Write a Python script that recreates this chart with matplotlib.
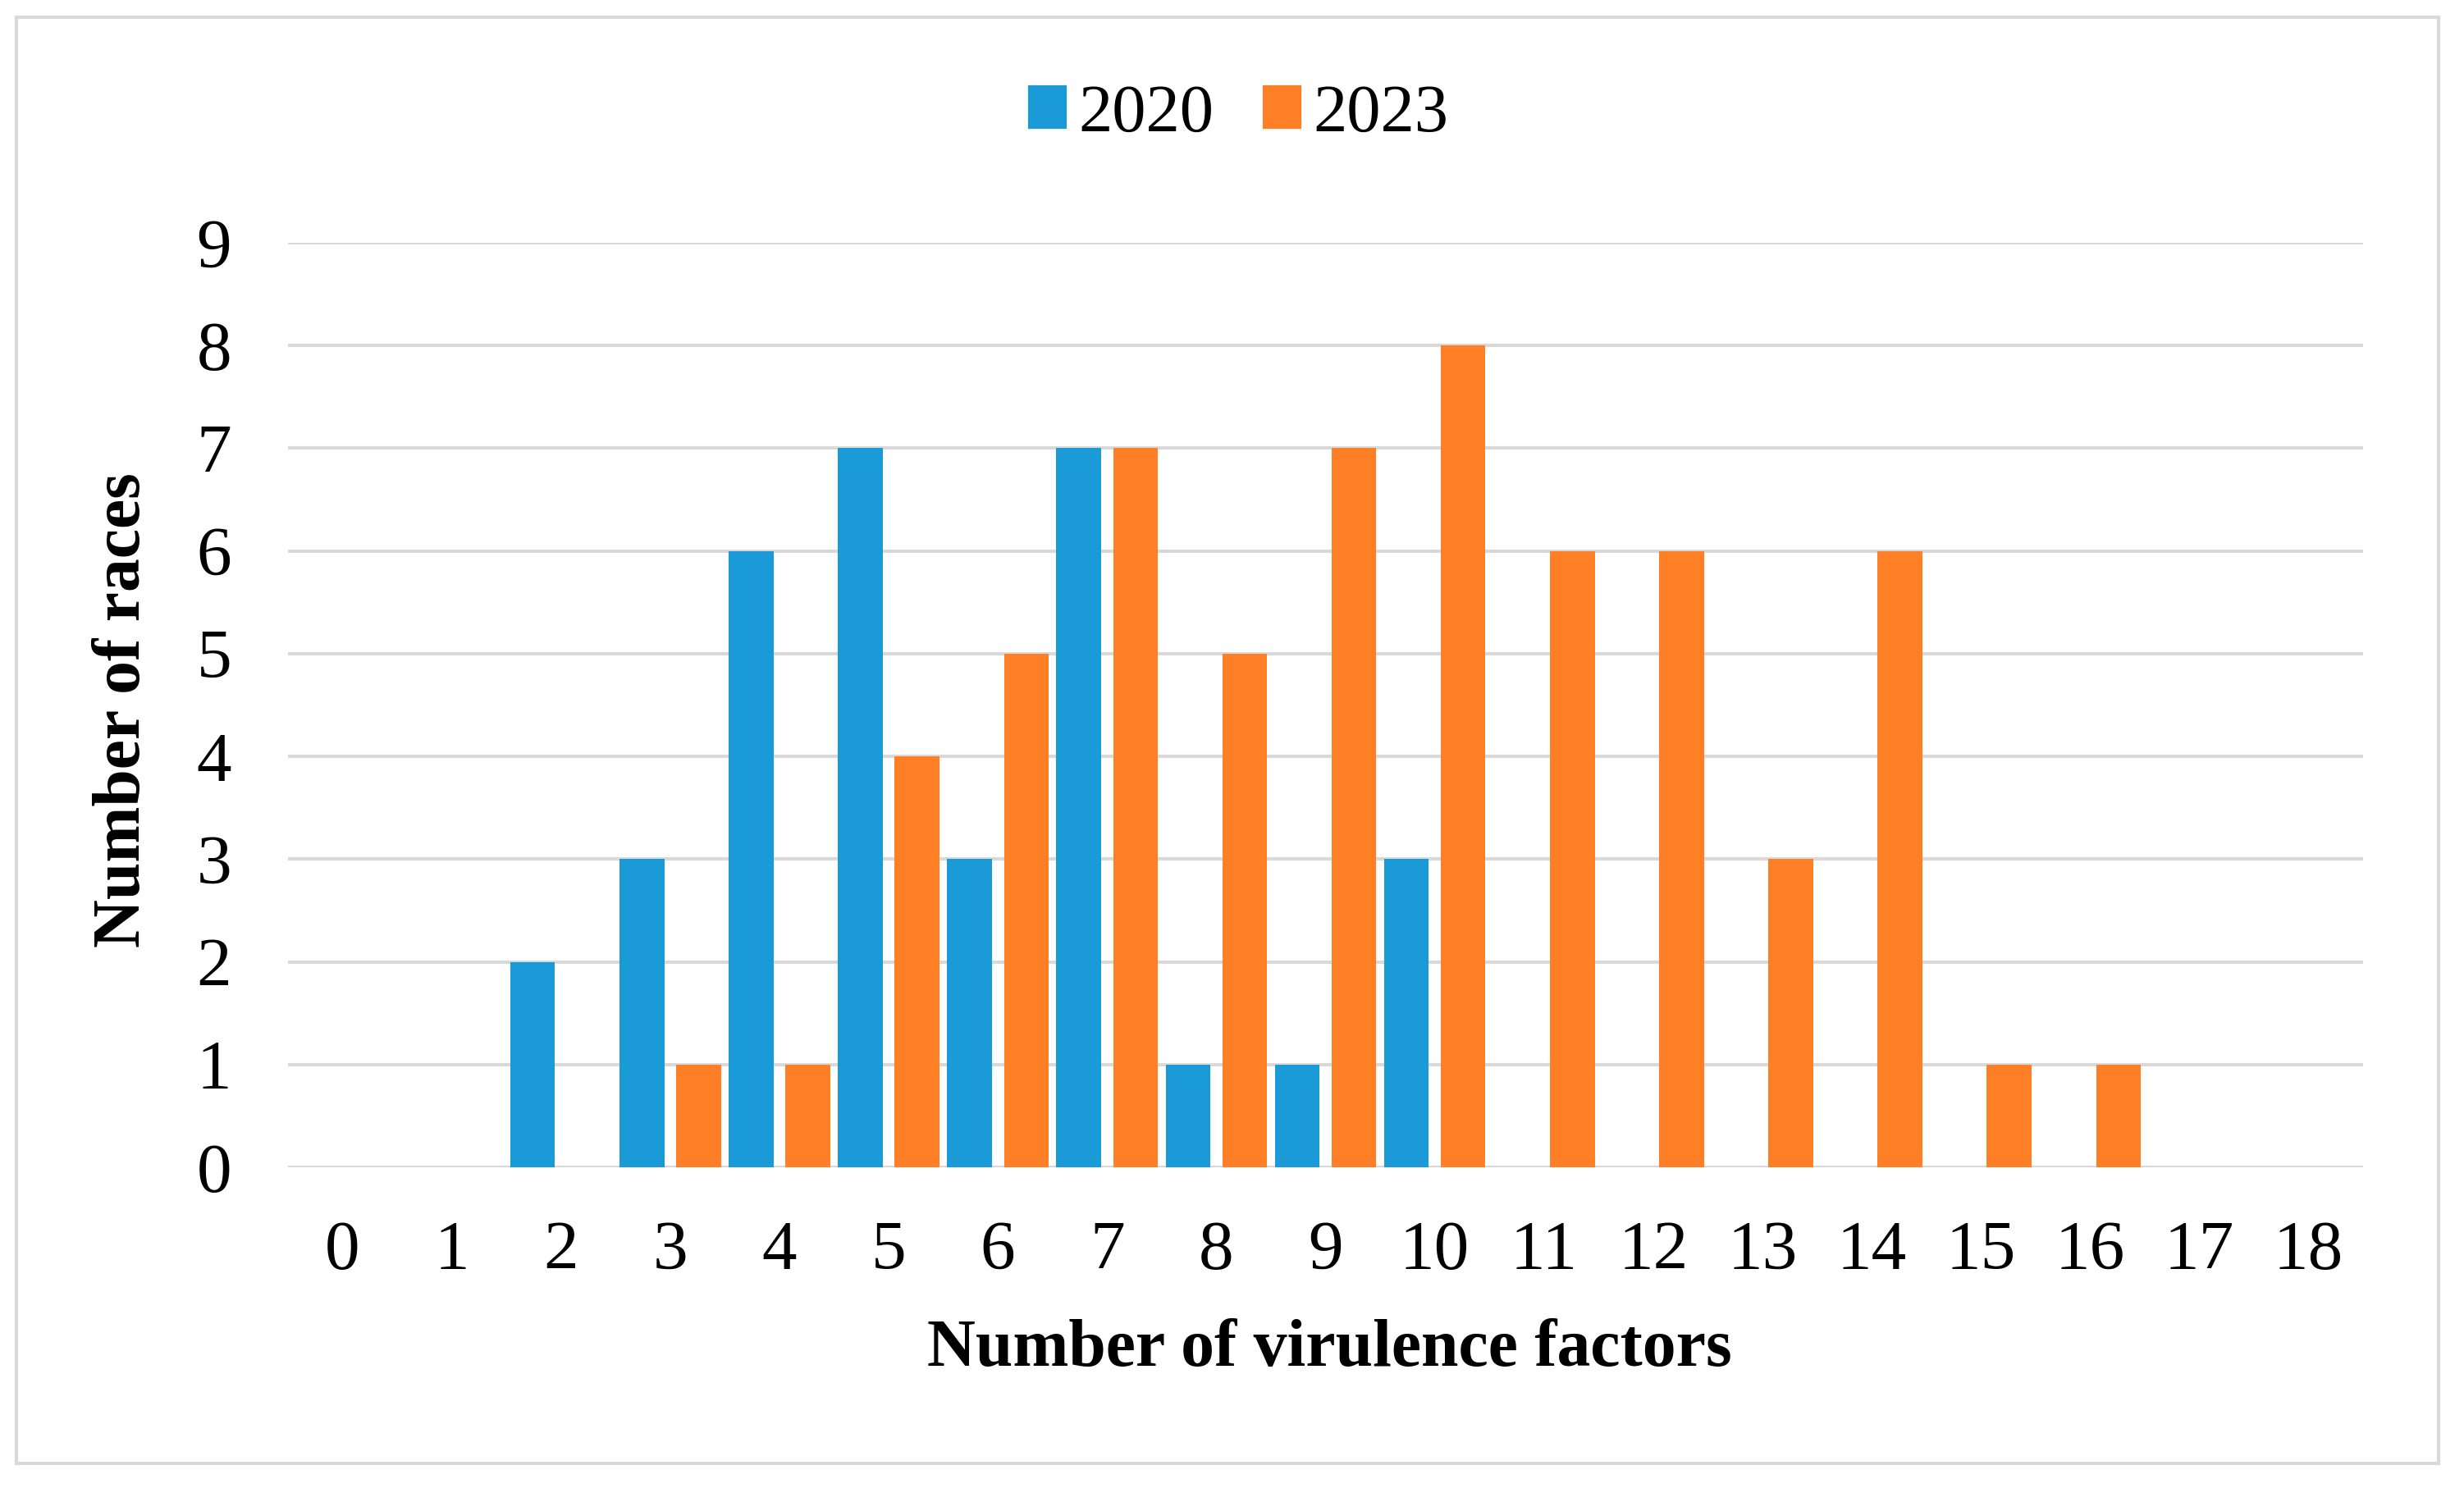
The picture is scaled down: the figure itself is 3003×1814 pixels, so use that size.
import matplotlib
matplotlib.use("Agg")
import matplotlib.pyplot as plt
import matplotlib.patches as mpatches
import numpy as np

# Data
factors = list(range(19))
races_2020 = [0, 0, 2, 3, 6, 7, 3, 7, 1, 1, 3, 0, 0, 0, 0, 0, 0, 0, 0]
races_2023 = [0, 0, 0, 1, 1, 4, 5, 7, 5, 7, 8, 6, 6, 3, 6, 1, 1, 0, 0]
series_names = ["2020", "2023"]

blue = "#1a9ad6"
orange = "#fe7f25"
grid_col = "#d9d9d9"

plt.rcParams["font.family"] = ["Liberation Serif", "DejaVu Serif"]

W, H = 3003, 1814
fig = plt.figure(figsize=(W / 300, H / 300), dpi=300)
fig.patch.set_facecolor("white")

# outer frame
fig.patches.append(mpatches.Rectangle((20 / W, 1 - 1784 / H), (2972 - 20) / W, (1784 - 21) / H,
                                      transform=fig.transFigure, fill=False,
                                      edgecolor=grid_col, linewidth=1.0))

ax = fig.add_axes([351 / W, 1 - 1423 / H, (2880 - 351) / W, (1423 - 296) / H])

x = np.arange(len(factors))
w = 0.41
off = 0.26
ax.bar(x - off, races_2020, width=w, color=blue, zorder=3, label=series_names[0])
ax.bar(x + off, races_2023, width=w, color=orange, zorder=3, label=series_names[1])

ax.set_xlim(-0.5, len(factors) - 0.5)
ax.set_ylim(0, 9)
ax.set_yticks(range(10))
ax.set_xticks(x)
ax.set_xticklabels([str(f) for f in factors])
ax.tick_params(axis="both", length=0, labelsize=20.5)
ax.tick_params(axis="x", pad=15.5)
ax.tick_params(axis="y", pad=16.5)
ax.yaxis.grid(True, color=grid_col, linewidth=1.0, zorder=0)
ax.set_axisbelow(True)
for s in ax.spines.values():
    s.set_visible(False)

fig.text(150 / W, 1 - 866 / H, "Number of races", rotation=90, ha="center", va="center",
         fontsize=19.6, fontweight="bold")
fig.text(1620 / W, 1 - 1665 / H, "Number of virulence factors", ha="center", va="baseline",
         fontsize=19.6, fontweight="bold")

handles = [mpatches.Patch(color=blue), mpatches.Patch(color=orange)]
fig.legend(handles, series_names, loc="center", bbox_to_anchor=(1510 / W, 1 - 140 / H),
           ncol=2, frameon=False, fontsize=19.8, handlelength=0.52, handleheight=0.52,
           handletextpad=0.2, columnspacing=0.75, borderaxespad=0)

fig.savefig("out.png", dpi=300, facecolor="white")
